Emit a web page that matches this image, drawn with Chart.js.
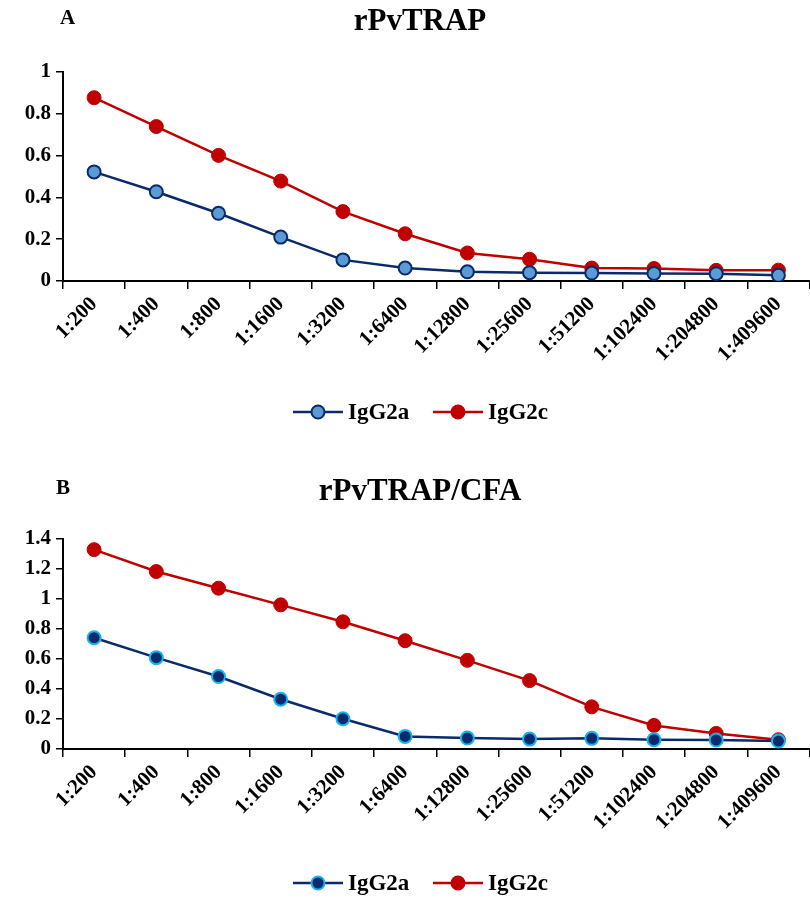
<!DOCTYPE html>
<html>
<head>
<meta charset="utf-8">
<script src="https://cdn.jsdelivr.net/npm/chart.js@4.4.0/dist/chart.umd.min.js"></script>
<style>
  body { margin: 0; background: #fff; overflow: hidden; }
  .box { position: relative; width: 818px; }
</style>
</head>
<body>
<div class="box" style="height:450px"><canvas id="chartA"></canvas></div>
<div class="box" style="height:448px"><canvas id="chartB"></canvas></div>
<script>
// dilusi serum
const dilutions = ['1:200', '1:400', '1:800', '1:1600', '1:3200', '1:6400', '1:12800',
    '1:25600', '1:51200', '1:102400', '1:204800', '1:409600'];

// A: rPvTRAP
const igg2aA = [0.522, 0.427, 0.324, 0.210, 0.101, 0.062, 0.044, 0.040, 0.038, 0.036, 0.035, 0.027];
const igg2cA = [0.877, 0.739, 0.601, 0.478, 0.332, 0.226, 0.134, 0.104, 0.062, 0.060, 0.051, 0.052];

// B: rPvTRAP/CFA
const igg2aB = [0.742, 0.609, 0.483, 0.332, 0.202, 0.084, 0.073, 0.066, 0.071, 0.062, 0.060, 0.053];
const igg2cB = [1.329, 1.183, 1.072, 0.961, 0.848, 0.722, 0.591, 0.456, 0.281, 0.157, 0.104, 0.062];

const yTicksA = [0, 0.2, 0.4, 0.6, 0.8, 1];
const yTicksB = [0, 0.2, 0.4, 0.6, 0.8, 1, 1.2, 1.4];

const NAVY = '#0b2a6b';
const RED = '#c00000';
const FONT = 'Liberation Serif';

// judul, huruf panel, dan legenda manual
function decorPlugin(letter, title, letterX, titleY, legendY, series) {
    return {
        id: 'decor',
        afterDraw(chart) {
            const ctx = chart.ctx;
            ctx.save();
            ctx.fillStyle = '#000';
            ctx.textBaseline = 'middle';
            ctx.font = 'bold 21px "' + FONT + '"';
            ctx.textAlign = 'left';
            ctx.fillText(letter, letterX, titleY - 3);
            ctx.font = 'bold 31px "' + FONT + '"';
            ctx.textAlign = 'center';
            ctx.fillText(title, 420, titleY);

            let x = 293;
            series.forEach(s => {
                ctx.strokeStyle = s.line;
                ctx.lineWidth = 2.5;
                ctx.beginPath();
                ctx.moveTo(x, legendY);
                ctx.lineTo(x + 50, legendY);
                ctx.stroke();
                ctx.beginPath();
                ctx.arc(x + 25, legendY, 6.5, 0, Math.PI * 2);
                ctx.fillStyle = s.fill;
                ctx.fill();
                ctx.lineWidth = 2;
                ctx.strokeStyle = s.border;
                ctx.stroke();
                ctx.fillStyle = '#000';
                ctx.font = 'bold 23px "' + FONT + '"';
                ctx.textAlign = 'left';
                ctx.fillText(s.label, x + 55, legendY + 1);
                x += 140;
            });
            ctx.restore();
        }
    };
}

function makeChart(id, a, c, aFill, aBorder, yMax, yTicks, padTop, xHeight, letter, title, letterX, titleY, legendY) {
    new Chart(document.getElementById(id), {
        type: 'line',
        data: {
            labels: dilutions,
            datasets: [{
                label: 'IgG2a',
                data: a,
                borderColor: NAVY,
                borderWidth: 2.5,
                pointBackgroundColor: aFill,
                pointBorderColor: aBorder,
                pointBorderWidth: 2,
                pointRadius: 6.5,
                tension: 0
            }, {
                label: 'IgG2c',
                data: c,
                borderColor: RED,
                borderWidth: 2.5,
                pointBackgroundColor: RED,
                pointBorderColor: RED,
                pointBorderWidth: 1,
                pointRadius: 7,
                tension: 0
            }]
        },
        options: {
            responsive: true,
            maintainAspectRatio: false,
            animation: false,
            layout: { padding: { top: padTop, left: 0, right: 0, bottom: 0 } },
            plugins: { legend: { display: false }, title: { display: false }, tooltip: { enabled: false } },
            scales: {
                x: {
                    offset: true,
                    grid: { display: true, drawOnChartArea: false, drawTicks: true, tickLength: 8, color: '#000', lineWidth: 1.5, offset: true },
                    border: { display: true, color: '#000', width: 2 },
                    ticks: { color: '#000', font: { family: FONT, size: 21, weight: 'bold' }, minRotation: 45, maxRotation: 45, autoSkip: false, padding: 3 },
                    afterFit(scale) {
                        scale.height = xHeight;
                        scale.paddingLeft = 0;
                        scale.paddingRight = 0;
                    }
                },
                y: {
                    min: 0,
                    max: yMax,
                    afterBuildTicks(scale) { scale.ticks = yTicks.map(v => ({ value: v })); },
                    grid: { display: true, drawOnChartArea: false, drawTicks: true, tickLength: 7, color: '#000', lineWidth: 1.5 },
                    border: { display: true, color: '#000', width: 2 },
                    ticks: {
                        color: '#000', font: { family: FONT, size: 21, weight: 'bold' }, padding: 5,
                        callback: v => String(+v.toFixed(1))
                    },
                    afterFit(scale) { scale.width = 63; }
                }
            }
        },
        plugins: [decorPlugin(letter, title, letterX, titleY, legendY, [
            { label: 'IgG2a', line: NAVY, fill: aFill, border: aBorder },
            { label: 'IgG2c', line: RED, fill: RED, border: RED }
        ])]
    });
}

makeChart('chartA', igg2aA, igg2cA, '#5b9bd5', NAVY, 1, yTicksA, 72, 169, 'A', 'rPvTRAP', 60, 22, 412);
makeChart('chartB', igg2aB, igg2cB, '#0b2a6b', '#14b4f0', 1.4, yTicksB, 89, 149, 'B', 'rPvTRAP/CFA', 56, 42, 433);
</script>
</body>
</html>
